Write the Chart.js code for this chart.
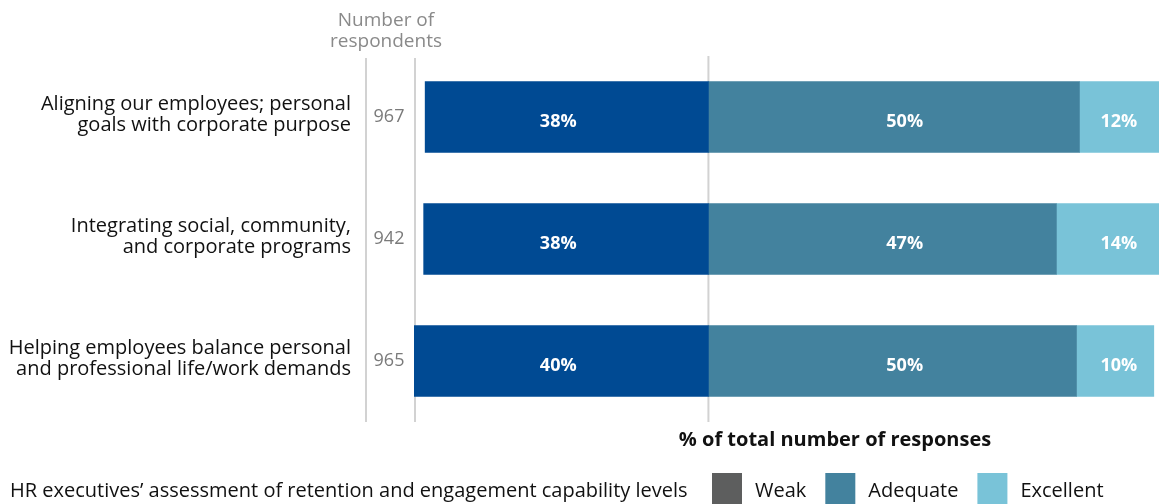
<!DOCTYPE html>
<html lang="en">
<head>
  <meta charset="UTF-8">
  <title>Retention and engagement capability levels</title>
  <style>
    body { margin: 0; background: #ffffff; }
    .wrap { position: relative; width: 1159px; height: 504px; }
  </style>
</head>
<body>
  <div class="wrap"><canvas id="capChart" width="1159" height="504"></canvas></div>

  <script src="https://cdn.jsdelivr.net/npm/chart.js"></script>
  <script>
    // data
    const categories = [
      ['Aligning our employees; personal', 'goals with corporate purpose'],
      ['Integrating social, community,', 'and corporate programs'],
      ['Helping employees balance personal', 'and professional life/work demands']
    ];
    const respondents = [967, 942, 965];
    const weak = [38.1, 38.3, 39.7];
    const adequate = [49.9, 46.8, 49.5];
    const excellent = [12, 14, 10.4];
    const seriesNames = ['Weak', 'Adequate', 'Excellent'];
    const barColors = ['#004a93', '#43829e', '#79c3d8'];
    const legendColors = ['#5d5e5e', '#43829e', '#79c3d8'];
    const labelCols = [-20.2, 26.4, 55.2]; // where the % labels sit, in axis units

    const FONT = "'Open Sans', 'Noto Sans', sans-serif";

    const decor = {
      id: 'decor',
      beforeDatasetsDraw(chart) {
        const { ctx, chartArea, scales } = chart;
        const x0 = scales.x.getPixelForValue(0);
        ctx.save();
        ctx.strokeStyle = '#d2d2d2';
        ctx.lineWidth = 2;
        [[366, 58], [chartArea.left + 1, 58], [x0, chartArea.top]].forEach(([x, top]) => {
          ctx.beginPath();
          ctx.moveTo(x, top);
          ctx.lineTo(x, chartArea.bottom);
          ctx.stroke();
        });
        ctx.restore();
      },
      afterDatasetsDraw(chart) {
        const { ctx, scales } = chart;
        ctx.save();
        // category labels and respondent counts
        categories.forEach((lines, i) => {
          const y = scales.y.getPixelForValue(i);
          ctx.fillStyle = '#111111';
          ctx.font = '20px ' + FONT;
          ctx.textAlign = 'right';
          ctx.textBaseline = 'middle';
          ctx.fillText(lines[0], 351, y - 13);
          ctx.fillText(lines[1], 351, y + 8);
          ctx.fillStyle = '#7a7a7a';
          ctx.font = '18px ' + FONT;
          ctx.textAlign = 'center';
          ctx.fillText(String(respondents[i]), 389, y);
        });
        // value labels
        ctx.fillStyle = '#ffffff';
        ctx.font = 'bold 18px ' + FONT;
        ctx.textAlign = 'center';
        ctx.textBaseline = 'middle';
        chart.data.datasets.forEach((ds, d) => {
          ds.data.forEach((v, i) => {
            const y = scales.y.getPixelForValue(i) + 5;
            const x = scales.x.getPixelForValue(labelCols[d]);
            ctx.fillText(Math.round(Math.abs(v)) + '%', x, y);
          });
        });
        // header
        ctx.fillStyle = '#8a8a8a';
        ctx.font = '19px ' + FONT;
        ctx.fillText('Number of', 386, 21);
        ctx.fillText('respondents', 386, 42);
        // axis title
        ctx.fillStyle = '#111111';
        ctx.font = 'bold 20px ' + FONT;
        ctx.fillText('% of total number of responses', 835, 440);
        // legend
        ctx.font = '20px ' + FONT;
        ctx.textAlign = 'left';
        ctx.fillText('HR executives\u2019 assessment of retention and engagement capability levels', 10, 491);
        let x = 712;
        seriesNames.forEach((name, k) => {
          ctx.fillStyle = legendColors[k];
          ctx.fillRect(x, 473, 30, 31);
          x += 43;
          ctx.fillStyle = '#111111';
          ctx.fillText(name, x, 491);
          x += ctx.measureText(name).width + 19;
        });
        ctx.restore();
      }
    };

    new Chart(document.getElementById('capChart'), {
      type: 'bar',
      data: {
        labels: categories.map(c => c.join(' ')),
        datasets: [
          { label: seriesNames[0], data: weak.map(v => -v), backgroundColor: barColors[0] },
          { label: seriesNames[1], data: adequate, backgroundColor: barColors[1] },
          { label: seriesNames[2], data: excellent, backgroundColor: barColors[2] }
        ]
      },
      options: {
        indexAxis: 'y',
        responsive: false,
        animation: false,
        layout: { padding: { left: 414, right: 0, top: 56, bottom: 82 } },
        datasets: { bar: { barThickness: 71, borderWidth: 0 } },
        scales: {
          x: { stacked: true, min: -39.6, max: 60.6, display: false },
          y: { stacked: true, display: false }
        },
        plugins: { legend: { display: false }, tooltip: { enabled: false } }
      },
      plugins: [decor]
    });
  </script>
</body>
</html>
